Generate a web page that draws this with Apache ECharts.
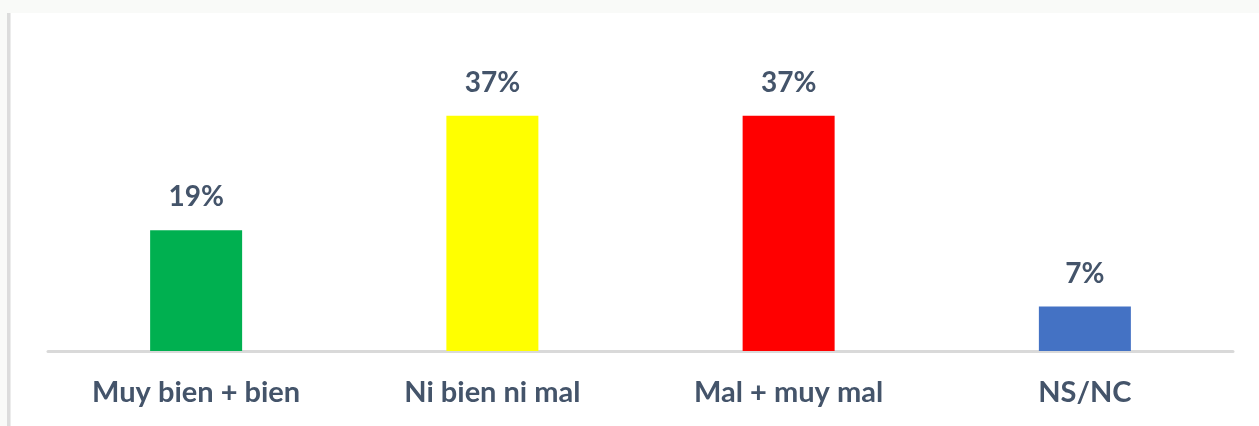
<!DOCTYPE html>
<html>
<head>
<meta charset="utf-8">
<script src="https://cdn.jsdelivr.net/npm/echarts@6/dist/echarts.min.js"></script>
<style>
html,body{margin:0;padding:0;background:#fff;}
#chart{width:1259px;height:426px;}
</style>
</head>
<body>
<div id="chart"></div>
<script>
const categories = ['Muy bien + bien', 'Ni bien ni mal', 'Mal + muy mal', 'NS/NC'];
const values = [19, 37, 37, 7];
const barColors = ['#00b050', '#ffff00', '#ff0000', '#4472c4'];

const chart = echarts.init(document.getElementById('chart'));
const textColor = '#44546a';
chart.setOption({
  backgroundColor: '#ffffff',
  animation: false,
  graphic: [
    { type: 'rect', shape: { x: 0, y: 0, width: 1259, height: 13 }, style: { fill: '#f9faf8' }, silent: true },
    { type: 'rect', shape: { x: 0, y: 13, width: 7, height: 413 }, style: { fill: '#f9faf8' }, silent: true },
    { type: 'rect', shape: { x: 7, y: 13, width: 3, height: 413 }, style: { fill: '#dcdcdc' }, silent: true },
    { type: 'rect', shape: { x: 10, y: 13, width: 1, height: 413 }, style: { fill: '#ececec' }, silent: true }
  ],
  grid: { left: 48, right: 26, top: 33, bottom: 75 },
  xAxis: {
    type: 'category',
    data: categories,
    axisLine: { show: true, lineStyle: { color: '#d9d9d9', width: 3 } },
    axisTick: { show: false },
    axisLabel: {
      color: textColor,
      fontFamily: 'Lato',
      fontWeight: 'bold',
      fontSize: 29,
      margin: 27
    }
  },
  yAxis: {
    type: 'value',
    min: 0,
    max: 50,
    show: false,
    splitLine: { show: false }
  },
  series: [{
    type: 'bar',
    barWidth: 92,
    data: values.map((v, i) => ({ value: v, itemStyle: { color: barColors[i] } })),
    label: {
      show: true,
      position: 'top',
      distance: 19,
      formatter: '{c}%',
      color: textColor,
      fontFamily: 'Lato',
      fontWeight: 'bold',
      fontSize: 28
    }
  }]
});
</script>
</body>
</html>
